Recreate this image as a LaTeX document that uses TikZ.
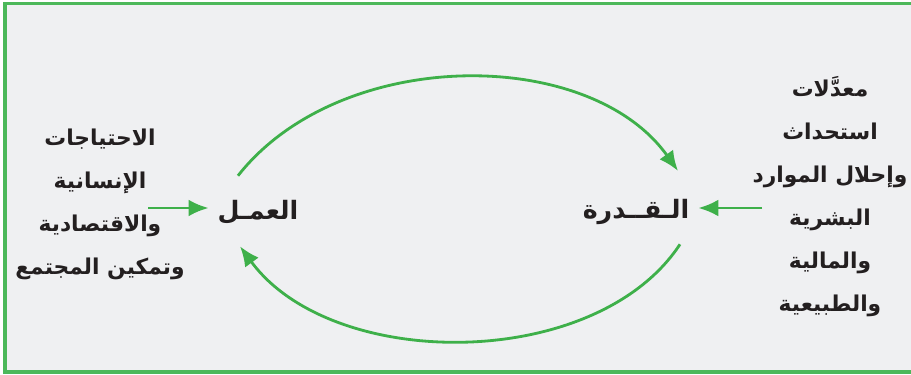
\documentclass[tikz,border=0pt]{standalone}
\usepackage{fontspec}
\usepackage{xcolor}
\usetikzlibrary{arrows.meta, positioning}
\TeXXeTstate=1
\newfontfamily\arabicfont[Script=Arabic]{DejaVu Sans}
\newcommand{\artext}[1]{\beginR #1\endR}
\definecolor{loopgreen}{RGB}{62,176,74}
\definecolor{framegreen}{RGB}{76,184,90}
\definecolor{panelgrey}{RGB}{239,240,242}
\definecolor{inkblack}{RGB}{35,31,32}

\begin{document}
\begin{tikzpicture}[
    word/.style={font=\arabicfont\bfseries\fontsize{15.5}{30.6}\selectfont, text=inkblack, align=center, inner sep=0pt},
    stage/.style={font=\arabicfont\bfseries\fontsize{18}{24}\selectfont, text=inkblack, minimum height=1.8cm, inner xsep=0.22cm},
    arrow/.style={-{Latex[length=5mm, width=4.2mm]}, line width=2pt, draw=loopgreen}
]
    \useasboundingbox (0,0) rectangle (22.775,9.35);
    \fill[white] (0,0) rectangle (22.775,9.35);
    \filldraw[fill=panelgrey, draw=framegreen, line width=2.6pt] (0.125,0.05) rectangle (23.2,9.2625);

    \node[stage] (amal) at (6.45,4.05) {\artext{العمـل}};
    \node[stage] (qudra) at (15.9,4.05) {\artext{الـقــدرة}};
    \node[word] (needs) at (2.5,4.25) {\artext{الاحتياجات}\\ \artext{الإنسانية}\\ \artext{والاقتصادية}\\ \artext{وتمكين المجتمع}};
    \node[word] (rates) at (20.75,4.44) {\artext{معدَّلات}\\ \artext{استحداث}\\ \artext{وإحلال الموارد}\\ \artext{البشرية}\\ \artext{والمالية}\\ \artext{والطبيعية}};

    \coordinate (needsout) at (3.7,4.15);
    \coordinate (ratesout) at (19.05,4.15);

    \draw[arrow] (needsout) -- (needsout -| amal.west);
    \draw[arrow] (ratesout) -- (ratesout -| qudra.east);
    \draw[arrow] ([xshift=-0.5cm]amal.north) .. controls (8.5,8.2) and (14.73,8.2) .. ([xshift=1.05cm,yshift=0.12cm]qudra.north);
    \draw[arrow] ([xshift=1.1cm,yshift=0.1cm]qudra.south) .. controls (14.9,0.05) and (8.3,0.05) .. ([xshift=-0.45cm,yshift=0.05cm]amal.south);
\end{tikzpicture}
\end{document}
